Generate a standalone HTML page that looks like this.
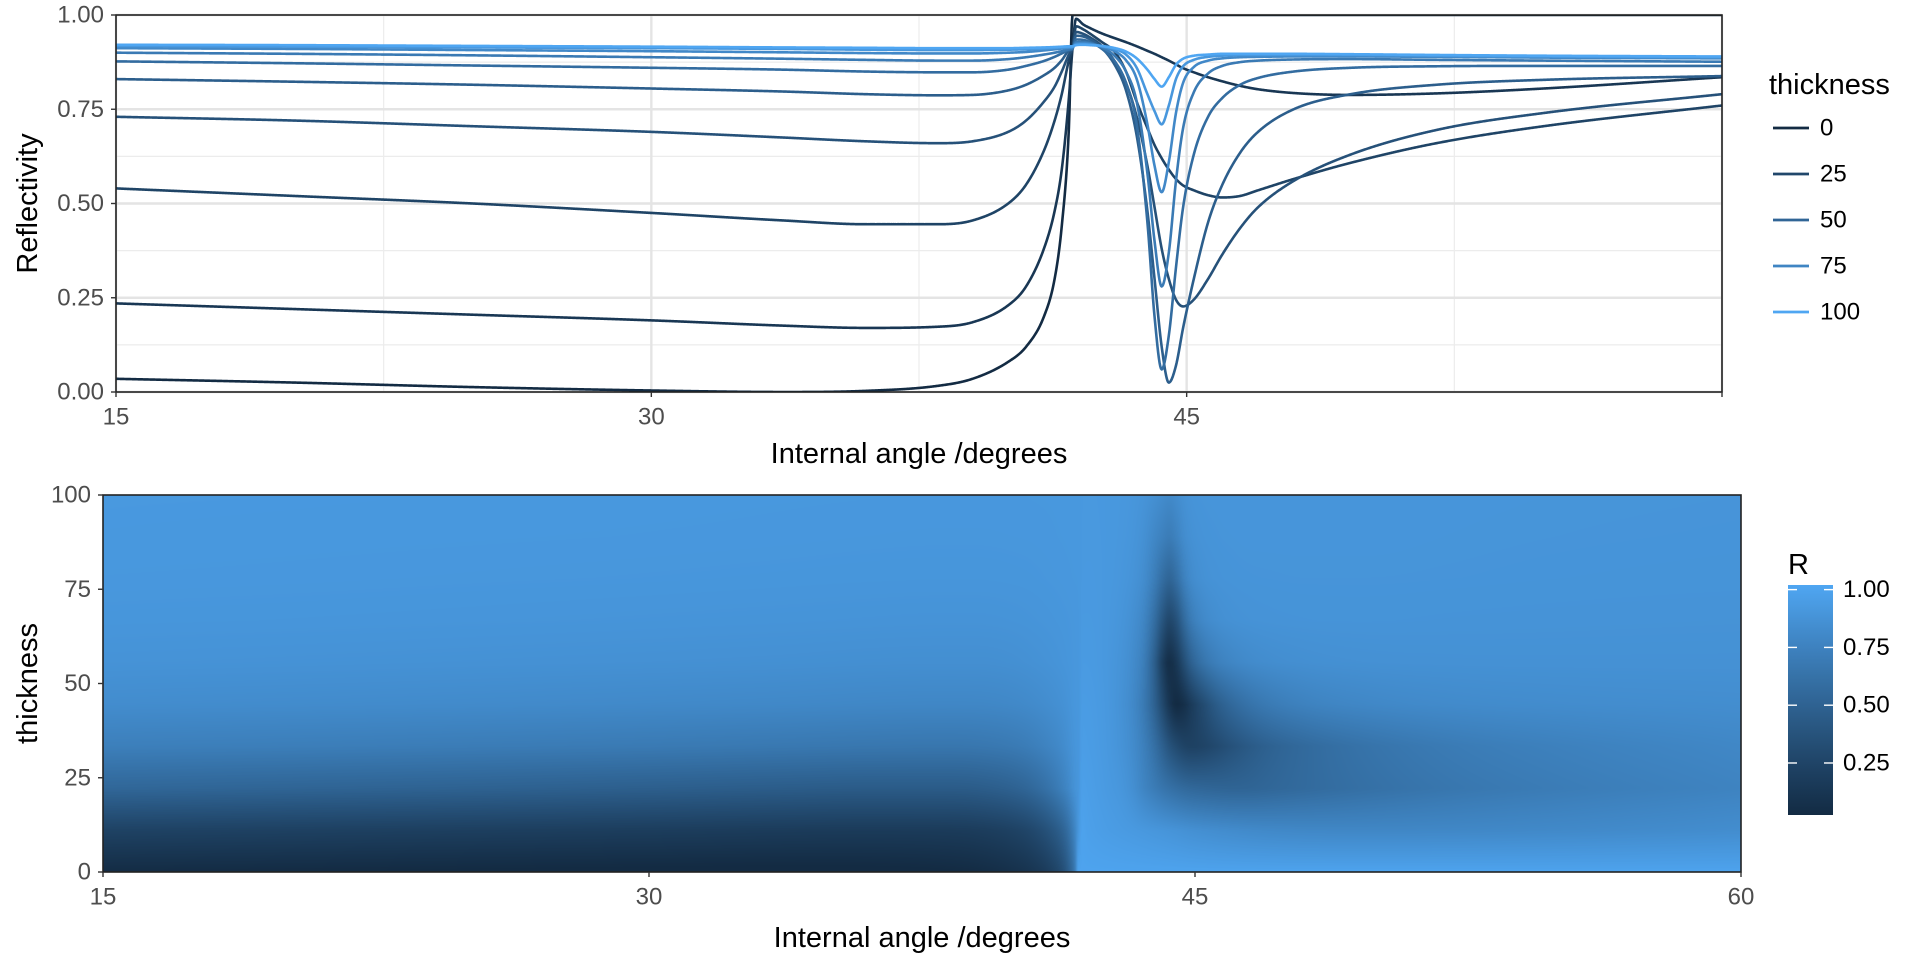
<!DOCTYPE html>
<html>
<head>
<meta charset="utf-8">
<style>
html,body{margin:0;padding:0;background:#fff;}
#wrap{position:relative;width:1920px;height:960px;overflow:hidden;font-family:"Liberation Sans",sans-serif;}
#chart{position:absolute;left:0;top:0;}
#heat{position:absolute;}
</style>
</head>
<body>
<div id="wrap">
<canvas id="heat"></canvas>
<svg id="chart" width="1920" height="960"></svg>
</div>
<script>
// ---- data ----
const angles = [15,20,25,30,33.7,36,38,39,40,40.5,41,41.3,41.5,41.7,41.8,41.9,42.1,42.3,42.6,43,43.3,43.6,43.9,44.1,44.3,44.5,44.7,44.9,45.2,45.6,46,46.5,47,48,49.6,52,55,60];
const thicknesses = [0,11.11,22.22,33.33,44.44,55.56,66.67,77.78,88.89,100];
const r_t0   = [0.035,0.025,0.013,0.004,0.0,0.003,0.016,0.035,0.08,0.12,0.2,0.3,0.44,0.7,1,1,1,1,1,1,1,1,1,1,1,1,1,1,1,1,1,1,1,1,1,1,1,1];
const r_t11  = [0.235,0.22,0.205,0.19,0.176,0.17,0.173,0.185,0.23,0.28,0.38,0.48,0.59,0.78,0.91,0.99,0.975,0.965,0.952,0.938,0.928,0.917,0.905,0.897,0.888,0.879,0.869,0.859,0.848,0.835,0.824,0.812,0.803,0.793,0.788,0.792,0.805,0.835];
const r_t22  = [0.54,0.52,0.50,0.475,0.455,0.445,0.445,0.455,0.50,0.55,0.64,0.72,0.79,0.88,0.91,0.97,0.962,0.95,0.93,0.9,0.85,0.77,0.7,0.655,0.62,0.59,0.565,0.548,0.535,0.522,0.516,0.52,0.535,0.565,0.608,0.66,0.705,0.76];
const r_t33  = [0.73,0.72,0.705,0.69,0.675,0.665,0.66,0.665,0.69,0.72,0.77,0.81,0.85,0.895,0.91,0.955,0.95,0.94,0.92,0.875,0.82,0.73,0.6,0.49,0.38,0.3,0.245,0.227,0.245,0.3,0.365,0.435,0.49,0.56,0.63,0.695,0.74,0.79];
const r_t44  = [0.83,0.823,0.815,0.805,0.797,0.79,0.787,0.788,0.8,0.815,0.84,0.86,0.88,0.905,0.91,0.945,0.943,0.935,0.915,0.865,0.8,0.68,0.48,0.3,0.12,0.025,0.07,0.17,0.3,0.45,0.55,0.635,0.69,0.75,0.79,0.815,0.828,0.838];
const r_t56  = [0.877,0.872,0.866,0.86,0.855,0.85,0.848,0.848,0.855,0.865,0.878,0.889,0.898,0.907,0.91,0.935,0.934,0.928,0.912,0.875,0.82,0.71,0.45,0.2,0.06,0.15,0.33,0.49,0.63,0.73,0.78,0.815,0.833,0.85,0.86,0.864,0.865,0.865];
const r_t67  = [0.9,0.897,0.893,0.888,0.884,0.881,0.879,0.879,0.883,0.888,0.895,0.9,0.904,0.909,0.912,0.928,0.928,0.925,0.915,0.89,0.85,0.77,0.58,0.4,0.28,0.37,0.56,0.7,0.795,0.845,0.865,0.875,0.879,0.882,0.883,0.881,0.879,0.876];
const r_t78  = [0.912,0.91,0.907,0.904,0.901,0.899,0.898,0.898,0.9,0.902,0.906,0.909,0.911,0.913,0.914,0.924,0.925,0.923,0.917,0.903,0.88,0.83,0.71,0.6,0.53,0.61,0.74,0.82,0.862,0.879,0.885,0.888,0.889,0.89,0.89,0.889,0.887,0.885];
const r_t89  = [0.918,0.916,0.914,0.912,0.91,0.908,0.907,0.907,0.908,0.909,0.911,0.913,0.914,0.915,0.916,0.921,0.922,0.921,0.918,0.909,0.895,0.86,0.79,0.745,0.71,0.76,0.83,0.864,0.881,0.889,0.892,0.894,0.894,0.894,0.894,0.892,0.89,0.888];
const r_t100 = [0.921,0.92,0.918,0.916,0.914,0.913,0.912,0.912,0.912,0.913,0.914,0.915,0.916,0.917,0.917,0.92,0.921,0.92,0.918,0.912,0.903,0.885,0.855,0.83,0.81,0.835,0.868,0.884,0.892,0.895,0.897,0.897,0.897,0.897,0.896,0.894,0.892,0.89];
const xTicks = [15,30,45,60];
const xTickLabels = ["15","30","45","60"];
const yTicksTop = [0,0.25,0.5,0.75,1];
const yTickLabelsTop = ["0.00","0.25","0.50","0.75","1.00"];
const yTicksBot = [0,25,50,75,100];
const yTickLabelsBot = ["0","25","50","75","100"];
const legendValues = [0,25,50,75,100];
const legendLabels = ["0","25","50","75","100"];
const cbarTicks = [0.25,0.5,0.75,1.0];
const cbarLabels = ["0.25","0.50","0.75","1.00"];

const series = [r_t0,r_t11,r_t22,r_t33,r_t44,r_t56,r_t67,r_t78,r_t89,r_t100];

// ---- layout ----
const P1 = {l:116, r:1722, t:15, b:392};
const P2 = {l:103, r:1741, t:495, b:872};
const xDom=[15,60];
const x1 = a => P1.l + (a-xDom[0])/(xDom[1]-xDom[0])*(P1.r-P1.l);
const y1 = v => P1.b - v*(P1.b-P1.t);
const x2 = a => P2.l + (a-xDom[0])/(xDom[1]-xDom[0])*(P2.r-P2.l);
const y2 = t => P2.b - t/100*(P2.b-P2.t);
const cDom=[0.025,1.02];
const CB={l:1788,r:1833,t:585,b:815};
const yC = v => CB.b - (v-cDom[0])/(cDom[1]-cDom[0])*(CB.b-CB.t);
const TICK=24, TITLE=29, LEG=24;

// ---- colour scale (Lab interpolation like ggplot) ----
function hex2rgb(h){return [parseInt(h.slice(1,3),16),parseInt(h.slice(3,5),16),parseInt(h.slice(5,7),16)];}
function lin(c){c/=255;return c<=0.04045?c/12.92:Math.pow((c+0.055)/1.055,2.4);}
function unlin(c){c=c<=0.0031308?12.92*c:1.055*Math.pow(c,1/2.4)-0.055;return Math.max(0,Math.min(255,Math.round(c*255)));}
function rgb2lab(rgb){const [r,g,b]=rgb.map(lin);
 let X=(0.4124*r+0.3576*g+0.1805*b)/0.95047,Y=(0.2126*r+0.7152*g+0.0722*b),Z=(0.0193*r+0.1192*g+0.9505*b)/1.08883;
 const f=t=>t>0.008856?Math.cbrt(t):7.787*t+16/116;
 const fx=f(X),fy=f(Y),fz=f(Z);return [116*fy-16,500*(fx-fy),200*(fy-fz)];}
function lab2rgb(lab){const fy=(lab[0]+16)/116,fx=fy+lab[1]/500,fz=fy-lab[2]/200;
 const fi=t=>t*t*t>0.008856?t*t*t:(t-16/116)/7.787;
 const X=fi(fx)*0.95047,Y=fi(fy),Z=fi(fz)*1.08883;
 const r=3.2406*X-1.5372*Y-0.4986*Z,g=-0.9689*X+1.8758*Y+0.0415*Z,b=0.0557*X-0.2040*Y+1.0570*Z;
 return [unlin(r),unlin(g),unlin(b)];}
const LOW=rgb2lab(hex2rgb("#132B43")), HIGH=rgb2lab(hex2rgb("#4FA6F2"));
function grad(f){f=Math.max(0,Math.min(1,f));return lab2rgb([0,1,2].map(i=>LOW[i]+(HIGH[i]-LOW[i])*f));}
const css = c => `rgb(${c[0]},${c[1]},${c[2]})`;

// ---- monotone spline ----
function mono(xs,ys){const n=xs.length,d=[],m=new Array(n);
 for(let i=0;i<n-1;i++)d.push((ys[i+1]-ys[i])/(xs[i+1]-xs[i]));
 m[0]=d[0];m[n-1]=d[n-2];
 for(let i=1;i<n-1;i++)m[i]=d[i-1]*d[i]<=0?0:(d[i-1]+d[i])/2;
 for(let i=0;i<n-1;i++){if(d[i]===0){m[i]=0;m[i+1]=0;continue;}
  const a=m[i]/d[i],b=m[i+1]/d[i],s=a*a+b*b;if(s>9){const t=3/Math.sqrt(s);m[i]=t*a*d[i];m[i+1]=t*b*d[i];}}
 return function(x){let i=0;while(i<n-2&&x>xs[i+1])i++;
  const h=xs[i+1]-xs[i],t=(x-xs[i])/h,t2=t*t,t3=t2*t;
  return (2*t3-3*t2+1)*ys[i]+(t3-2*t2+t)*h*m[i]+(-2*t3+3*t2)*ys[i+1]+(t3-t2)*h*m[i+1];};}
const fns = series.map(s=>mono(angles,s));

// ---- svg helpers ----
const NS="http://www.w3.org/2000/svg";
const svg=document.getElementById('chart');
function mk(tag,attrs,parent){const e=document.createElementNS(NS,tag);for(const k in attrs)e.setAttribute(k,attrs[k]);(parent||svg).appendChild(e);return e;}
function txt(s,x,y,size,fill,anchor,parent){const e=mk('text',{x:x,y:y,'font-size':size,fill:fill,'text-anchor':anchor||'middle','dominant-baseline':'central','font-family':'Liberation Sans, sans-serif'},parent);e.textContent=s;return e;}

// ---- top panel ----
const gTop=mk('g',{});


mk('rect',{x:P1.l,y:P1.t,width:P1.r-P1.l,height:P1.b-P1.t,fill:'#fff'},gTop);
const gGrid=mk('g',{},gTop);


for(let v=0.125;v<1;v+=0.25)mk('line',{x1:P1.l,x2:P1.r,y1:y1(v),y2:y1(v),stroke:'#ececec','stroke-width':1.2},gGrid);
for(let a=22.5;a<60;a+=15)mk('line',{x1:x1(a),x2:x1(a),y1:P1.t,y2:P1.b,stroke:'#ececec','stroke-width':1.2},gGrid);
yTicksTop.forEach(v=>mk('line',{x1:P1.l,x2:P1.r,y1:y1(v),y2:y1(v),stroke:'#e4e4e4','stroke-width':2.4},gGrid));
xTicks.forEach(a=>mk('line',{x1:x1(a),x2:x1(a),y1:P1.t,y2:P1.b,stroke:'#e4e4e4','stroke-width':2.4},gGrid));
const cp=mk('clipPath',{id:'clipTop'},gTop);
mk('rect',{x:P1.l,y:P1.t,width:P1.r-P1.l,height:P1.b-P1.t},cp);
const gLines=mk('g',{'clip-path':'url(#clipTop)'},gTop);


series.forEach((s,k)=>{let d='';
 for(let a=xDom[0];a<=xDom[1]+1e-9;a+=0.02){const v=fns[k](a);d+=(d?'L':'M')+x1(a).toFixed(2)+','+y1(v).toFixed(2);}
 const p=mk('path',{d:d,fill:'none',stroke:css(grad(thicknesses[k]/100)),'stroke-width':2.6,'stroke-linejoin':'round'},gLines);
 
 
});
mk('rect',{x:P1.l,y:P1.t,width:P1.r-P1.l,height:P1.b-P1.t,fill:'none',stroke:'#222','stroke-width':1.6},gTop);
// axes top
const gAx1=mk('g',{});


xTicks.forEach((a,i)=>{mk('line',{x1:x1(a),x2:x1(a),y1:P1.b,y2:P1.b+5,stroke:'#333','stroke-width':1.4},gAx1);
 if(a<60){const t=txt(xTickLabels[i],x1(a),P1.b+25,TICK,'#4d4d4d','middle',gAx1);}});
yTicksTop.forEach((v,i)=>{mk('line',{x1:P1.l-5,x2:P1.l,y1:y1(v),y2:y1(v),stroke:'#333','stroke-width':1.4},gAx1);
 const t=txt(yTickLabelsTop[i],P1.l-12,y1(v),TICK,'#4d4d4d','end',gAx1);});
let tt=txt('Internal angle /degrees',(P1.l+P1.r)/2,454,TITLE,'#000','middle',gAx1);


tt=txt('Reflectivity',0,0,TITLE,'#000','middle',gAx1);tt.setAttribute('transform',`translate(28,${(P1.t+P1.b)/2}) rotate(-90)`);


// legend
const gLeg=mk('g',{});


tt=txt('thickness',1769,85,TITLE,'#000','start',gLeg);


legendValues.forEach((v,i)=>{const y=128+i*46;const g=mk('g',{},gLeg);
 
 
 mk('line',{x1:1773,x2:1809,y1:y,y2:y,stroke:css(grad(v/100)),'stroke-width':2.8},g);
 txt(legendLabels[i],1820,y,LEG,'#000','start',g);});

// ---- bottom panel ----
const cv=document.getElementById('heat');
const W=P2.r-P2.l,H=P2.b-P2.t;
cv.width=W;cv.height=H;cv.style.left=P2.l+'px';cv.style.top=P2.t+'px';
const ctx=cv.getContext('2d');const img=ctx.createImageData(W,H);
for(let c=0;c<W;c++){const a=xDom[0]+(c+0.5)/W*(xDom[1]-xDom[0]);const vals=fns.map(f=>f(a));
 for(let r=0;r<H;r++){const t=100*(H-r-0.5)/H;let j=0;while(j<thicknesses.length-2&&t>thicknesses[j+1])j++;
  const f=(t-thicknesses[j])/(thicknesses[j+1]-thicknesses[j]);const v=vals[j]+(vals[j+1]-vals[j])*f;
  const col=grad((v-cDom[0])/(cDom[1]-cDom[0]));const o=(r*W+c)*4;img.data[o]=col[0];img.data[o+1]=col[1];img.data[o+2]=col[2];img.data[o+3]=255;}}
ctx.putImageData(img,0,0);
const gB=mk('g',{});


mk('rect',{x:P2.l,y:P2.t,width:W,height:H,fill:'none',stroke:'#222','stroke-width':1.6},gB);
xTicks.forEach((a,i)=>{mk('line',{x1:x2(a),x2:x2(a),y1:P2.b,y2:P2.b+5,stroke:'#333','stroke-width':1.4},gB);
 const t=txt(xTickLabels[i],x2(a),P2.b+25,TICK,'#4d4d4d','middle',gB);});
yTicksBot.forEach((v,i)=>{mk('line',{x1:P2.l-5,x2:P2.l,y1:y2(v),y2:y2(v),stroke:'#333','stroke-width':1.4},gB);
 const t=txt(yTickLabelsBot[i],P2.l-12,y2(v),TICK,'#4d4d4d','end',gB);});
tt=txt('Internal angle /degrees',(P2.l+P2.r)/2,938,TITLE,'#000','middle',gB);


tt=txt('thickness',0,0,TITLE,'#000','middle',gB);tt.setAttribute('transform',`translate(28,${(P2.t+P2.b)/2}) rotate(-90)`);


// colorbar
const gC=mk('g',{});


tt=txt('R',1788,565,TITLE,'#000','start',gC);


const defs=mk('defs',{});const lg=mk('linearGradient',{id:'cbg',x1:0,y1:1,x2:0,y2:0},defs);
for(let i=0;i<=10;i++)mk('stop',{offset:i/10,'stop-color':css(grad(i/10))},lg);
mk('rect',{x:CB.l,y:CB.t,width:CB.r-CB.l,height:CB.b-CB.t,fill:'url(#cbg)'},gC);
cbarTicks.forEach((v,i)=>{const y=yC(v);
 mk('line',{x1:CB.l,x2:CB.l+9,y1:y,y2:y,stroke:'#fff','stroke-width':1.4},gC);
 mk('line',{x1:CB.r-9,x2:CB.r,y1:y,y2:y,stroke:'#fff','stroke-width':1.4},gC);
 const t=txt(cbarLabels[i],1843,y,LEG,'#000','start',gC);});
</script>
</body>
</html>
